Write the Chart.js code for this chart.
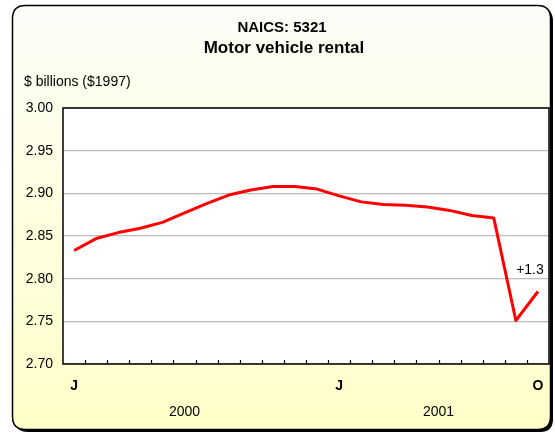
<!DOCTYPE html>
<html><head><meta charset="utf-8">
<script src="https://cdn.jsdelivr.net/npm/chart.js@4/dist/chart.umd.min.js"></script>
<style>html,body{margin:0;padding:0;background:#fff;overflow:hidden}</style>
</head><body>
<canvas id="c" width="555" height="434" style="display:block;width:555px;height:434px"></canvas>
<script>
// ---- data ----
const months = ['J','F','M','A','M','J','J','A','S','O','N','D','J','F','M','A','M','J','J','A','S','O'];
const monthLabelsShown = ['J','','','','','','','','','','','','J','','','','','','','','','O'];
const years = ['2000','2001'];
const yearLabelIndex = [5, 16.5];   // category position under which each year label sits
const values = [2.833, 2.847, 2.854, 2.859, 2.866, 2.877, 2.888, 2.898, 2.904, 2.908, 2.908,
                2.905, 2.897, 2.890, 2.887, 2.886, 2.884, 2.880, 2.874, 2.871, 2.751, 2.785];
const yMin = 2.70, yMax = 3.00, yStep = 0.05;
const titleLines = ['NAICS: 5321', 'Motor vehicle rental'];
const unitLabel = '$ billions ($1997)';
const noteText = '+1.3';
const noteIndex = 21;

const FONT = '"Liberation Sans", Arial, sans-serif';

function rr(ctx, x, y, w, h, r) {
  ctx.beginPath();
  ctx.moveTo(x + r, y);
  ctx.lineTo(x + w - r, y);
  ctx.quadraticCurveTo(x + w, y, x + w, y + r);
  ctx.lineTo(x + w, y + h - r);
  ctx.quadraticCurveTo(x + w, y + h, x + w - r, y + h);
  ctx.lineTo(x + r, y + h);
  ctx.quadraticCurveTo(x, y + h, x, y + h - r);
  ctx.lineTo(x, y + r);
  ctx.quadraticCurveTo(x, y, x + r, y);
  ctx.closePath();
}

function catPixel(xs, pos) {
  const i0 = Math.floor(pos), f = pos - i0;
  const p0 = xs.getPixelForValue(i0);
  if (f === 0) return p0;
  return p0 + f * (xs.getPixelForValue(i0 + 1) - p0);
}

const decor = {
  id: 'decor',
  beforeDraw(chart) {
    const ctx = chart.ctx, a = chart.chartArea;
    ctx.save();
    ctx.fillStyle = '#fff';
    ctx.fillRect(0, 0, chart.width, chart.height);
    // shadow
    rr(ctx, 15, 8, 538, 424, 13);
    ctx.fillStyle = '#000';
    ctx.fill();
    // box
    rr(ctx, 12.5, 5.5, 538, 424, 13);
    const g = ctx.createLinearGradient(0, 5, 0, 430);
    g.addColorStop(0, '#FDFDF8');
    g.addColorStop(1, '#FFFFC8');
    ctx.fillStyle = g;
    ctx.fill();
    ctx.lineWidth = 1.5;
    ctx.strokeStyle = '#000';
    ctx.stroke();
    // plot area
    ctx.fillStyle = '#fff';
    ctx.fillRect(a.left, a.top, a.right - a.left, a.bottom - a.top);
    ctx.restore();
  },
  afterDraw(chart) {
    const ctx = chart.ctx, a = chart.chartArea;
    const xs = chart.scales.x, ys = chart.scales.y;
    ctx.save();
    // plot border
    ctx.strokeStyle = '#000';
    ctx.lineWidth = 1.5;
    ctx.strokeRect(a.left, a.top, a.right - a.left, a.bottom - a.top);
    // inner ticks at category boundaries
    ctx.lineWidth = 1.2;
    ctx.beginPath();
    for (let i = 1; i < months.length; i++) {
      const x = Math.round(catPixel(xs, i - 0.5)) + 0.5;
      ctx.moveTo(x, a.bottom);
      ctx.lineTo(x, a.bottom - 4);
    }
    ctx.stroke();
    // month labels
    ctx.fillStyle = '#000';
    ctx.textAlign = 'center';
    ctx.textBaseline = 'middle';
    ctx.font = 'bold 14px ' + FONT;
    monthLabelsShown.forEach((m, i) => {
      if (m) ctx.fillText(m, xs.getPixelForValue(i), 386);
    });
    // year labels
    ctx.font = '14px ' + FONT;
    years.forEach((y, k) => {
      ctx.fillText(y, catPixel(xs, yearLabelIndex[k]), 412);
    });
    // titles
    ctx.font = 'bold 15px ' + FONT;
    ctx.fillText(titleLines[0], 282, 28);
    ctx.font = 'bold 17px ' + FONT;
    ctx.fillText(titleLines[1], 284, 48);
    // unit label
    ctx.textAlign = 'left';
    ctx.font = '14px ' + FONT;
    ctx.fillText(unitLabel, 24, 82);
    // note
    ctx.textAlign = 'center';
    const px = xs.getPixelForValue(noteIndex), py = ys.getPixelForValue(values[noteIndex]);
    ctx.fillText(noteText, px - 8, py - 21);
    ctx.restore();
  }
};

new Chart(document.getElementById('c'), {
  type: 'line',
  data: {
    labels: months,
    datasets: [{
      data: values,
      borderColor: '#FF0000',
      borderWidth: 3,
      pointRadius: 0,
      tension: 0,
      borderJoinStyle: 'round',
      fill: false
    }]
  },
  options: {
    responsive: false,
    animation: false,
    devicePixelRatio: 1,
    layout: { padding: { top: 108, left: 0, right: 6, bottom: 70 } },
    plugins: { legend: { display: false }, title: { display: false }, tooltip: { enabled: false } },
    scales: {
      x: {
        type: 'category',
        offset: true,
        grid: { display: false },
        border: { display: false },
        ticks: { display: false },
        afterFit(s) { s.height = 0; }
      },
      y: {
        min: yMin, max: yMax,
        border: { display: false },
        grid: { color: '#BDBDBD', lineWidth: 1.2, drawTicks: false },
        ticks: {
          stepSize: yStep,
          padding: 10,
          color: '#000',
          font: { family: FONT, size: 14 },
          callback: v => v.toFixed(2)
        },
        afterFit(s) { s.width = 63; }
      }
    }
  },
  plugins: [decor]
});
</script>
</body></html>
